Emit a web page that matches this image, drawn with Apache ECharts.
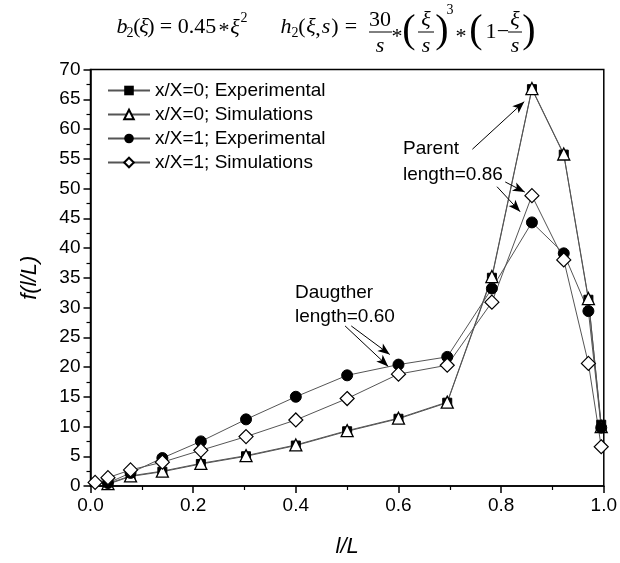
<!DOCTYPE html>
<html>
<head>
<meta charset="utf-8">
<script src="https://cdn.jsdelivr.net/npm/echarts@6/dist/echarts.min.js"></script>
<style>
  html, body { margin: 0; padding: 0; background: #fff; }
  #chart { width: 620px; height: 563px; }
</style>
</head>
<body>
<div id="chart"></div>
<script>
// l/L positions (the x/X=1 simulations start one point earlier)
var xMain = [0.034, 0.078, 0.140, 0.215, 0.303, 0.400, 0.500, 0.600, 0.695, 0.782, 0.860, 0.922, 0.970, 0.995];
var xSim1 = [0.009, 0.034, 0.078, 0.140, 0.215, 0.303, 0.400, 0.500, 0.600, 0.695, 0.782, 0.860, 0.922, 0.970, 0.995];

var exp0 = [0.3, 1.6, 2.4, 3.7, 5.0, 6.8, 9.2, 11.3, 14.0, 35.0, 66.7, 55.7, 31.3, 10.3];
var sim0 = [0.4, 1.7, 2.5, 3.8, 5.1, 6.9, 9.3, 11.4, 14.1, 35.2, 66.8, 55.8, 31.5, 10.0];
var exp1 = [0.5, 2.2, 4.7, 7.5, 11.2, 15.0, 18.6, 20.4, 21.7, 33.2, 44.3, 39.1, 29.4, 9.8];
var sim1 = [0.6, 1.4, 2.7, 4.0, 6.0, 8.3, 11.1, 14.7, 18.8, 20.3, 30.9, 48.8, 38.0, 20.6, 6.6];

var names = ['x/X=0; Experimental', 'x/X=0; Simulations', 'x/X=1; Experimental', 'x/X=1; Simulations'];

// annotation arrows: [from, to] in data coordinates
var arrows = [
  [[0.744, 56.6], [0.845, 64.6]],
  [[0.808, 51.1], [0.846, 49.4]],
  [[0.792, 50.3], [0.837, 46.1]],
  [[0.508, 26.9], [0.583, 22.1]],
  [[0.496, 26.9], [0.580, 20.1]]
];

function zip(xs, ys) {
  return ys.map(function (y, i) { return [xs[i], y]; });
}

var sans = '"Liberation Sans", Arial, sans-serif';
var serif = '"Liberation Serif", "Times New Roman", serif';

function txt(s, x, y, size, italic) {
  return {
    type: 'text',
    style: {
      text: s, x: x, y: y,
      font: (italic ? 'italic ' : '') + size + 'px ' + serif,
      fill: '#000',
      textAlign: 'center',
      textVerticalAlign: 'middle'
    }
  };
}
function bar(x1, x2, y) {
  return { type: 'line', shape: { x1: x1, y1: y, x2: x2, y2: y }, style: { stroke: '#000', lineWidth: 1 } };
}
function note(s, x, y) {
  return {
    type: 'text',
    style: { text: s, x: x, y: y, font: '19px ' + sans, fill: '#000', textAlign: 'left', textVerticalAlign: 'middle' }
  };
}

var formula = [
  // b2(xi) = 0.45 * xi^2
  txt('b', 122, 27, 22, true),
  txt('2', 130, 33, 14, false),
  txt('(', 137, 27, 22, false),
  txt('ξ', 144, 27, 22, true),
  txt(')', 151, 27, 22, false),
  txt('=', 166, 27, 22, false),
  txt('0.45', 197, 27, 22, false),
  txt('*', 224, 31, 22, false),
  txt('ξ', 235, 28, 22, true),
  txt('2', 244, 18, 14, false),
  // h2(xi,s) = 30/s * (xi/s)^3 * (1 - xi/s)
  txt('h', 286, 27, 22, true),
  txt('2', 295, 33, 14, false),
  txt('(', 302, 27, 22, false),
  txt('ξ', 311, 27, 22, true),
  txt(',', 318, 29, 22, false),
  txt('s', 326, 27, 22, true),
  txt(')', 335, 27, 22, false),
  txt('=', 351, 27, 22, false),
  txt('30', 380, 20, 22, false),
  bar(369, 392, 32),
  txt('s', 380, 46, 22, true),
  txt('*', 397, 37, 22, false),
  txt('(', 409, 31, 40, false),
  txt('ξ', 426, 20, 22, true),
  bar(418, 434, 32),
  txt('s', 426, 46, 22, true),
  txt(')', 442, 31, 40, false),
  txt('3', 450, 10, 14, false),
  txt('*', 461, 37, 22, false),
  txt('(', 476, 31, 40, false),
  txt('1', 491, 32, 22, false),
  txt('−', 503, 32, 22, false),
  txt('ξ', 515, 20, 22, true),
  bar(508, 522, 32),
  txt('s', 515, 46, 22, true),
  txt(')', 529, 31, 40, false)
];

var notes = [
  note('Parent', 403, 149),
  note('length=0.86', 403, 175),
  note('Daugther', 295, 293),
  note('length=0.60', 295, 317)
];

var chart = echarts.init(document.getElementById('chart'));
var lineStyle = { color: '#555', width: 1 };
var option = {
  animation: false,
  backgroundColor: '#fff',
  grid: {
    left: 90.5, right: 13, top: 69.5, bottom: 72,
    show: true, borderColor: '#000', borderWidth: 1.5, backgroundColor: 'transparent'
  },
  legend: {
    orient: 'vertical',
    left: 102, top: 76,
    itemWidth: 42, itemHeight: 12, itemGap: 5,
    textStyle: { fontSize: 19, fontFamily: sans, color: '#000' },
    data: names
  },
  xAxis: {
    type: 'value', min: 0, max: 1, interval: 0.2,
    name: 'l/L', nameLocation: 'middle', nameGap: 50,
    nameTextStyle: { fontSize: 22, fontStyle: 'italic', fontFamily: sans, color: '#000' },
    axisLine: { show: true, onZero: false, lineStyle: { color: '#000', width: 1.5 } },
    axisTick: { show: true, inside: false, length: 7, lineStyle: { color: '#000', width: 1.5 } },
    minorTick: { show: true, splitNumber: 2, length: 4, lineStyle: { color: '#000', width: 1.2 } },
    splitLine: { show: false },
    axisLabel: { fontSize: 19, fontFamily: sans, color: '#000', margin: 10,
      formatter: function (v) { return v.toFixed(1); } }
  },
  yAxis: {
    type: 'value', min: 0, max: 70, interval: 5,
    name: 'f(l/L)', nameLocation: 'middle', nameGap: 50, nameRotate: 90,
    nameTextStyle: { fontSize: 22, fontStyle: 'italic', fontFamily: sans, color: '#000' },
    axisLine: { show: true, onZero: false, lineStyle: { color: '#000', width: 1.5 } },
    axisTick: { show: true, inside: false, length: 7, lineStyle: { color: '#000', width: 1.5 } },
    minorTick: { show: true, splitNumber: 2, length: 4, lineStyle: { color: '#000', width: 1.2 } },
    splitLine: { show: false },
    axisLabel: { fontSize: 19, fontFamily: sans, color: '#000', margin: 10 }
  },
  graphic: formula.concat(notes),
  series: [
    {
      name: names[0], type: 'line', data: zip(xMain, exp0),
      symbol: 'rect', symbolSize: 9,
      itemStyle: { color: '#000', borderColor: '#000' },
      lineStyle: lineStyle
    },
    {
      name: names[1], type: 'line', data: zip(xMain, sim0),
      symbol: 'triangle', symbolSize: 12,
      itemStyle: { color: '#fff', borderColor: '#000', borderWidth: 1.3 },
      lineStyle: lineStyle
    },
    {
      name: names[2], type: 'line', data: zip(xMain, exp1),
      symbol: 'circle', symbolSize: 11,
      itemStyle: { color: '#000', borderColor: '#000' },
      lineStyle: lineStyle,
      markLine: {
        silent: true,
        z: 10,
        symbol: ['none', 'arrow'],
        symbolSize: [7, 12],
        itemStyle: { color: '#000' },
        lineStyle: { color: '#000', width: 1, type: 'solid' },
        label: { show: false },
        data: arrows.map(function (a) {
          return [{ coord: a[0] }, { coord: a[1] }];
        })
      }
    },
    {
      name: names[3], type: 'line', data: zip(xSim1, sim1),
      symbol: 'diamond', symbolSize: 14,
      itemStyle: { color: '#fff', borderColor: '#000', borderWidth: 1.2 },
      lineStyle: lineStyle
    }
  ]
};
chart.setOption(option);
</script>
</body>
</html>
